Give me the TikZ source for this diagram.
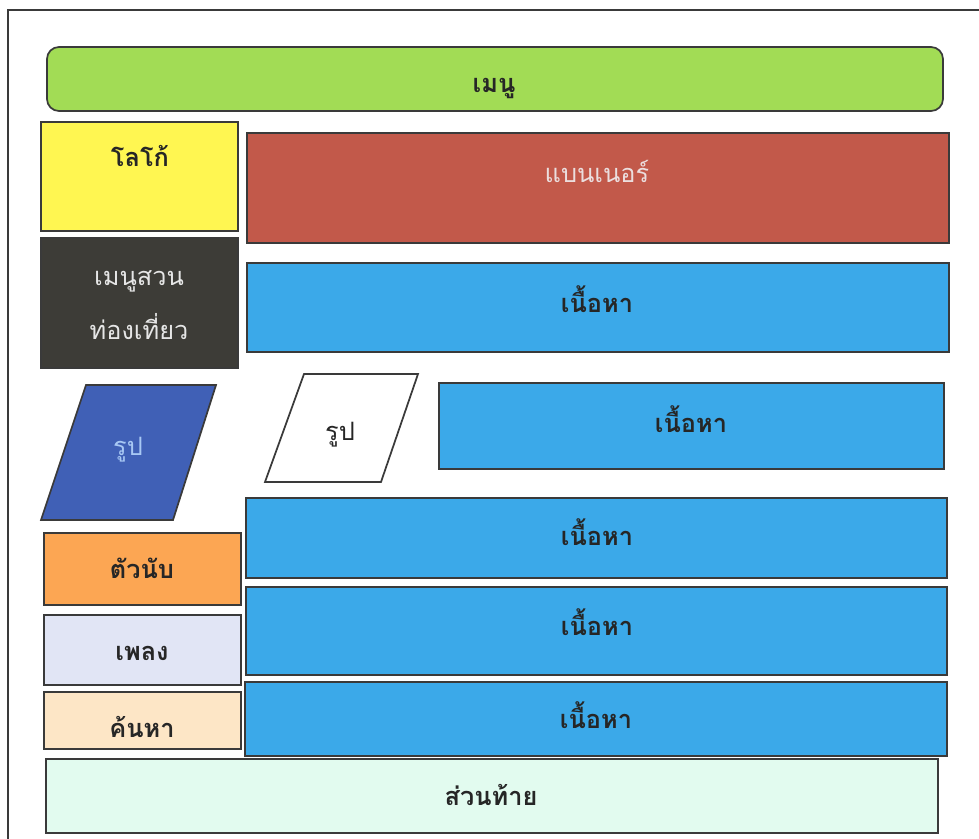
\documentclass[tikz,border=0pt]{standalone}
\usepackage{fontspec}
\newfontfamily\thaifont[Script=Thai]{Loma}
\definecolor{cgreen}{HTML}{A2DC55}
\definecolor{cyellow}{HTML}{FFF651}
\definecolor{cbanner}{HTML}{C2594A}
\definecolor{cdark}{HTML}{3D3C37}
\definecolor{cblue}{HTML}{3BA9E9}
\definecolor{cpar}{HTML}{4060B6}
\definecolor{corange}{HTML}{FCA653}
\definecolor{clav}{HTML}{E1E5F5}
\definecolor{cpeach}{HTML}{FDE6C6}
\definecolor{cmint}{HTML}{E2FBEF}
\definecolor{cedge}{HTML}{3A3A3A}
\definecolor{cthin}{HTML}{E6E6E6}
\definecolor{cparTxt}{HTML}{A8C8F4}
\begin{document}
\begin{tikzpicture}[x=0.75pt,y=-0.75pt,
  box/.style={draw=cedge,line width=1.3pt},
  lbl/.style={anchor=base,inner sep=0pt,font=\thaifont\bfseries\fontsize{19}{22}\selectfont,text=black!85},
  thin/.style={anchor=base,inner sep=0pt,font=\thaifont\fontsize{19}{22}\selectfont}]
\useasboundingbox (0,0) rectangle (979,839);
\fill[white] (0,0) rectangle (979,839);
% frame
\draw[cedge,line width=1.2pt] (8,839) -- (8,10) -- (979,10);
% menu
\draw[box,fill=cgreen,rounded corners=9pt] (47,47) rectangle (943,111);
\node[lbl] (menu) at (494,92) {เมนู};
% logo
\draw[box,fill=cyellow] (41,122) rectangle (238,231);
\node[lbl] (logo) at (140,166) {โลโก้};
% banner
\draw[box,fill=cbanner] (247,133) rectangle (949,243);
\node[thin,text=cthin!80!pink] (banner) at (597,182) {แบนเนอร์};
% dark menu
\draw[box,fill=cdark] (41,238) rectangle (238,368);
\node[thin,text=cthin] (tour1) at (139,285) {เมนูสวน};
\node[thin,text=cthin] (tour2) at (139,339) {ท่องเที่ยว};
% content 1
\draw[box,fill=cblue] (247,263) rectangle (949,352);
\node[lbl] (c1) at (597,312) {เนื้อหา};
% blue parallelogram
\draw[box,fill=cpar] (86,385) -- (216,385) -- (173,520) -- (41,520) -- cycle;
\node[thin,text=cparTxt] (pic1) at (128,455) {รูป};
% white parallelogram
\draw[box,fill=white] (304,374) -- (418,374) -- (381,482) -- (265,482) -- cycle;
\node[thin,text=black!85] (pic2) at (340,440) {รูป};
% content 2
\draw[box,fill=cblue] (439,383) rectangle (944,469);
\node[lbl] (c2) at (691,432) {เนื้อหา};
% content 3-5
\draw[box,fill=cblue] (246,498) rectangle (947,578);
\node[lbl] (c3) at (597,545) {เนื้อหา};
\draw[box,fill=cblue] (246,587) rectangle (947,675);
\node[lbl] (c4) at (597,635) {เนื้อหา};
\draw[box,fill=cblue] (245,682) rectangle (947,756);
\node[lbl] (c5) at (596,728) {เนื้อหา};
% left small boxes
\draw[box,fill=corange] (44,533) rectangle (241,605);
\node[lbl] (counter) at (142,578) {ตัวนับ};
\draw[box,fill=clav] (44,615) rectangle (241,685);
\node[lbl] (song) at (142,660) {เพลง};
\draw[box,fill=cpeach] (44,692) rectangle (241,749);
\node[lbl] (search) at (142,737) {ค้นหา};
% footer
\draw[box,fill=cmint] (46,759) rectangle (938,833);
\node[lbl] (footer) at (491,805) {ส่วนท้าย};
\end{tikzpicture}
\end{document}
